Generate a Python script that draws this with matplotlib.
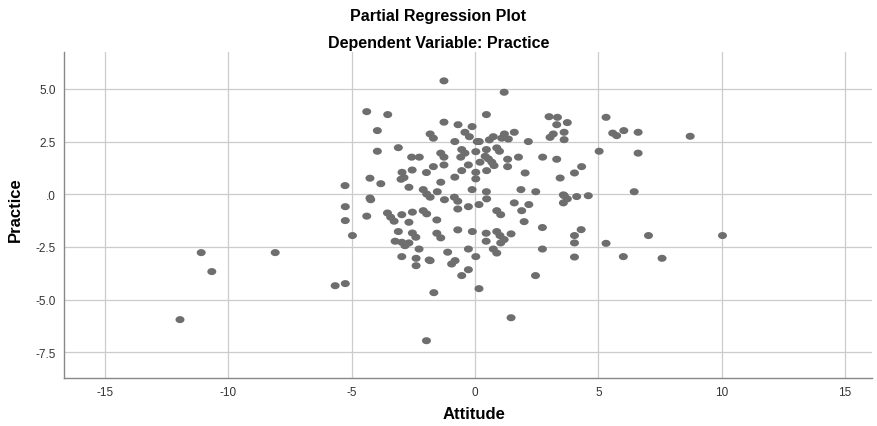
import numpy as np
import matplotlib
matplotlib.use("Agg")
import matplotlib.pyplot as plt
from matplotlib.path import Path

# Partial regression residuals
attitude = [
    -11.96, -11.10, -10.67, -8.10, -5.67, -5.26, -1.97, -1.67, 1.46, 0.16, 2.45,
    6.01, 7.58, 7.03, 10.03, 6.45, 6.61, 6.61, 8.72, 6.03, 5.58, 5.74, 5.31,
    -1.26, -4.39, -3.54, -3.96, -1.26, -0.69, -0.12, -1.82, -1.69, -0.41, -0.23,
    -0.82, 0.09, -3.96, -3.11, -2.57, -2.26, -1.39, -1.26, -0.54, -0.41, -0.58,
    0.03, -1.26, -1.69, -1.97, -2.55, -2.96, -2.88, -3.00, -4.26, -3.82, -5.27,
    -2.68, -2.10, -1.96, -1.53, -1.39, -0.82, -0.54, -0.27, 0.03, 0.03, -0.12,
    -4.26,
    1.18, 0.46, 3.00, 3.34, 3.31, 3.74, 5.03, 3.61, 3.04, 3.17, 3.61, 1.59, 1.19,
    1.08, 1.35, 0.74, 0.58, 0.17, 2.16, 0.46, 0.88, 0.99, 1.76, 1.32, 1.32, 2.74,
    3.31, 0.41, 0.54, 0.68, 0.77, 0.20, 0.47, 2.03, 4.32, 4.03, 3.45, 1.86, 2.46,
    0.46, 3.62, 4.12, 4.59,
    -4.23, -5.26, -5.26, -4.39, -4.97, -3.55, -3.42, -3.28, -2.97, -2.54, -2.68,
    -2.10, -1.96, -3.11, -2.54, -2.40, -3.24, -2.97, -2.84, -2.68, -2.27, -2.97,
    -2.39, -2.39, -1.86,
    -1.82, -1.24, -0.84, -0.70, 0.47, -0.70, -0.27, 0.16, -1.55, 0.88, 1.04,
    1.59, 1.89, 1.99, -0.70, -0.11, -1.55, -1.39, 0.45, 0.45, 0.88, 1.01, 1.18,
    1.04, 1.46, -0.27, 0.03, -1.11, -1.82, 0.74, 0.88, -0.81, -0.95, -0.27, -0.54,
    3.58, 3.74, 3.58, 2.18, 2.73, 4.30, 4.03, 4.03, 5.31, 2.73, 4.03,
]
practice = [
    -5.95, -2.77, -3.67, -2.77, -4.34, -4.24, -6.95, -4.67, -5.86, -4.48, -3.86,
    -2.96, -3.04, -1.96, -1.96, 0.12, 1.95, 2.94, 2.75, 3.02, 2.90, 2.78, 3.65,
    5.38, 3.92, 3.78, 3.02, 3.42, 3.30, 3.21, 2.86, 2.66, 2.94, 2.73,
    2.50, 2.50, 2.04, 2.21, 1.76, 1.76, 1.95, 1.76, 2.12, 1.95, 1.76,
    2.02, 1.39, 1.31, 1.03, 1.15, 1.04, 0.79, 0.71, 0.76, 0.50, 0.41,
    0.33, 0.22, 0.01, 0.12, 0.57, 0.81, 1.12, 1.39, 1.04, 0.73, 0.22,
    -0.18,
    4.84, 3.78, 3.68, 3.65, 3.30, 3.40, 2.04, 2.94, 2.70, 2.86, 2.59, 2.94, 2.86,
    2.66, 2.62, 2.73, 2.58, 2.50, 2.50, 2.12, 2.20, 2.04, 1.76, 1.66, 1.31, 1.76,
    1.66, 1.80, 1.68, 1.52, 1.36, 1.52, 1.12, 1.01, 1.31, 1.01, 0.77, 0.22, 0.12,
    0.12, -0.07, -0.11, -0.07,
    -0.26, -0.59, -1.25, -1.04, -1.96, -0.89, -1.09, -1.28, -0.97, -0.85, -1.33,
    -0.78, -0.93, -1.77, -1.84, -2.04, -2.23, -2.28, -2.44, -2.31, -2.60, -2.96,
    -3.04, -3.39, -3.12,
    -0.14, -0.26, -0.14, -0.33, -0.22, -0.70, -0.59, -0.49, -1.22, -0.78, -0.97,
    -0.41, -0.78, -1.30, -1.69, -1.77, -1.85, -2.07, -1.85, -2.23, -1.77, -1.96, -2.15,
    -2.31, -1.88, -2.60, -2.96, -2.75, -3.15, -2.60, -2.79, -3.15, -3.31, -3.58, -3.86,
    -0.03, -0.22, -0.41, -0.49, -1.58, -1.68, -1.96, -2.31, -2.33, -2.60, -2.98,
]

x_ticks = [-15, -10, -5, 0, 5, 10, 15]
x_tick_labels = ["-15", "-10", "-5", "0", "5", "10", "15"]
y_ticks = [5.0, 2.5, 0.0, -2.5, -5.0, -7.5]
y_tick_labels = ["5.0", "2.5", ".0", "-2.5", "-5.0", "-7.5"]

plt.rcParams['font.family'] = ['Liberation Sans', 'DejaVu Sans']

fig = plt.figure(figsize=(8.77, 4.27), dpi=100)
ax = fig.add_axes([0.0733, 0.1124, 0.921, 0.7635])

t = np.linspace(0, 2 * np.pi, 40)
ell = Path(np.column_stack([1.15 * np.cos(t), 0.9 * np.sin(t)]))

ax.scatter(attitude, practice, marker=ell, s=42, color="#6e6e6e",
           edgecolors="none", zorder=3)

ax.set_xlim(-16.65, 16.09)
ax.set_ylim(-8.72, 6.75)
ax.set_xticks(x_ticks)
ax.set_xticklabels(x_tick_labels)
ax.set_yticks(y_ticks)
ax.set_yticklabels(y_tick_labels)
ax.tick_params(axis="x", length=0, labelsize=8.5, colors="#333333", pad=6)
ax.tick_params(axis="y", length=0, labelsize=8.5, colors="#333333", pad=6)
ax.grid(True, color="#cccccc", linewidth=0.9, zorder=0)
ax.set_axisbelow(True)
for s in ["top", "right"]:
    ax.spines[s].set_visible(False)
for s in ["left", "bottom"]:
    ax.spines[s].set_color("#888888")
    ax.spines[s].set_linewidth(1.0)

fig.text(0.5, 0.962, "Partial Regression Plot", ha="center", va="center",
         fontsize=11.5, fontweight="bold")
fig.text(0.5, 0.899, "Dependent Variable: Practice", ha="center", va="center",
         fontsize=11.5, fontweight="bold")
fig.text(0.541, 0.030, "Attitude", ha="center", va="center",
         fontsize=12, fontweight="bold")
fig.text(0.018, 0.51, "Practice", ha="center", va="center", rotation=90,
         fontsize=12, fontweight="bold")

fig.savefig("out.png", dpi=100)
